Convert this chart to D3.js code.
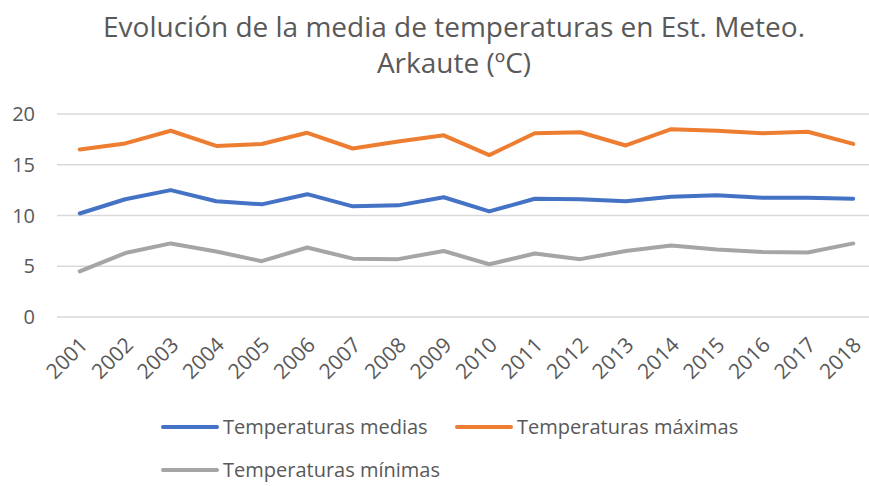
<!DOCTYPE html>
<html>
<head>
<meta charset="utf-8">
<script src="https://cdn.jsdelivr.net/npm/d3@7"></script>
<style>
  body { margin: 0; background: #fff; }
  svg text { font-family: "Open Sans", "Noto Sans", sans-serif; fill: #595959; }
</style>
</head>
<body>
<div id="chart"></div>
<script>
const years = ["2001","2002","2003","2004","2005","2006","2007","2008","2009",
  "2010","2011","2012","2013","2014","2015","2016","2017","2018"];
const medias = [10.2, 11.6, 12.5, 11.4, 11.1, 12.1, 10.9, 11.0, 11.8,
  10.4, 11.65, 11.6, 11.4, 11.85, 12.0, 11.75, 11.75, 11.65];
const maximas = [16.5, 17.1, 18.35, 16.85, 17.05, 18.15, 16.6, 17.3, 17.9,
  15.95, 18.1, 18.2, 16.9, 18.5, 18.35, 18.1, 18.25, 17.05];
const minimas = [4.5, 6.3, 7.25, 6.45, 5.5, 6.85, 5.75, 5.7, 6.5,
  5.2, 6.25, 5.7, 6.5, 7.05, 6.65, 6.4, 6.35, 7.25];
const yTicks = [0, 5, 10, 15, 20];

const series = [
  { name: "Temperaturas medias", values: medias, color: "#4472C4" },
  { name: "Temperaturas máximas", values: maximas, color: "#ED7D31" },
  { name: "Temperaturas mínimas", values: minimas, color: "#A5A5A5" }
];

const width = 869, height = 486;
const margin = { left: 57, right: -7, top: 114, bottom: 169 };

const svg = d3.select("#chart").append("svg")
  .attr("width", width)
  .attr("height", height);

// title
svg.append("text")
  .attr("x", 454).attr("y", 37)
  .attr("text-anchor", "middle")
  .style("font-size", "28px")
  .text("Evolución de la media de temperaturas en Est. Meteo.");
svg.append("text")
  .attr("x", 454).attr("y", 73)
  .attr("text-anchor", "middle")
  .style("font-size", "28px")
  .text("Arkaute (ºC)");

const x = d3.scaleBand()
  .domain(years)
  .range([margin.left, width - margin.right]);

const y = d3.scaleLinear()
  .domain([0, 20])
  .range([height - margin.bottom, margin.top]);

// gridlines
svg.append("g")
  .selectAll("line")
  .data(yTicks)
  .enter()
  .append("line")
  .attr("x1", margin.left)
  .attr("x2", width - margin.right)
  .attr("y1", d => y(d))
  .attr("y2", d => y(d))
  .attr("stroke", "#D9D9D9")
  .attr("stroke-width", 1.3);

// y labels
svg.append("g")
  .selectAll("text")
  .data(yTicks)
  .enter()
  .append("text")
  .attr("x", 35)
  .attr("y", d => y(d))
  .attr("dy", "0.35em")
  .attr("text-anchor", "end")
  .style("font-size", "20px")
  .text(d => d);

// x labels
svg.append("g")
  .selectAll("text")
  .data(years)
  .enter()
  .append("text")
  .attr("transform", d => `translate(${x(d) + x.bandwidth() / 2 + 4},${y(0) + 24}) rotate(-45)`)
  .attr("text-anchor", "end")
  .attr("dy", "0.35em")
  .style("font-size", "21px")
  .text(d => d);

const line = d3.line()
  .x((d, i) => x(years[i]) + x.bandwidth() / 2)
  .y(d => y(d));

svg.append("g")
  .selectAll("path")
  .data(series)
  .enter()
  .append("path")
  .attr("d", d => line(d.values))
  .attr("fill", "none")
  .attr("stroke", d => d.color)
  .attr("stroke-width", 4)
  .attr("stroke-linejoin", "round")
  .attr("stroke-linecap", "round");

// legend
const legendPos = [
  { x: 163, y: 427 },
  { x: 457, y: 427 },
  { x: 163, y: 470 }
];

const legend = svg.append("g")
  .selectAll("g")
  .data(series)
  .enter()
  .append("g")
  .attr("transform", (d, i) => `translate(${legendPos[i].x},${legendPos[i].y})`);

legend.append("line")
  .attr("x1", 0).attr("x2", 54)
  .attr("stroke", d => d.color)
  .attr("stroke-width", 4)
  .attr("stroke-linecap", "round");

legend.append("text")
  .attr("x", 60)
  .attr("dy", "0.35em")
  .style("font-size", "20px")
  .text(d => d.name);
</script>
</body>
</html>
